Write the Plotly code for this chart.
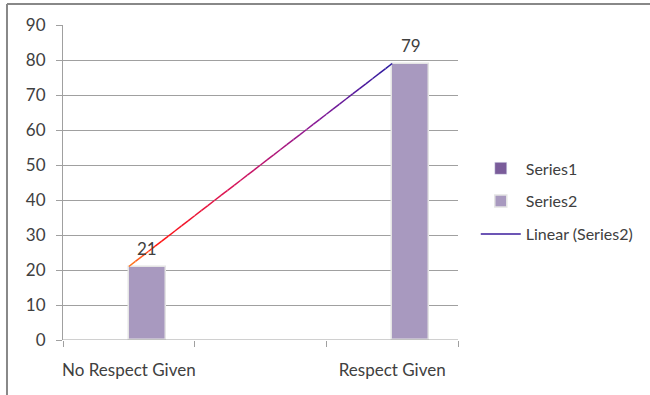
import numpy as np
import plotly.graph_objects as go

categories = ["No Respect Given", "", "Respect Given"]
series1 = [None, None, None]
series2 = [21, None, 79]
y_ticks = [0, 10, 20, 30, 40, 50, 60, 70, 80, 90]

xpos = np.arange(len(categories))
fig = go.Figure()
FONT = "Lato, Open Sans, sans-serif"

fig.add_trace(go.Bar(x=xpos, y=series1, name="Series1", marker_color="#7a5c9a",
                     width=0.28, offset=-0.28, legendgroup="a"))
fig.add_trace(go.Bar(x=xpos, y=series2, name="Series2", marker_color="#a899bf",
                     marker_line=dict(color="#e4e4e4", width=1.5),
                     width=0.28, offset=0, legendgroup="b"))

annotations = []
for i, v in enumerate(series2):
    if v is not None:
        annotations.append(dict(x=i + 0.14, y=v, xref="x", yref="y", text=str(v),
                                showarrow=False, yanchor="middle", yshift=18,
                                font=dict(family=FONT, size=17, color="#404040")))

# linear trend line on Series2
pts = [(i, v) for i, v in enumerate(series2) if v is not None]
px_ = np.array([p[0] for p in pts], dtype=float)
py_ = np.array([p[1] for p in pts], dtype=float)
m, b = np.polyfit(px_, py_, 1)
x0, x1 = px_.min(), px_.max()
stops = [(0.0, (255, 128, 32)), (0.12, (255, 20, 20)), (0.4, (215, 20, 90)),
         (0.7, (140, 25, 150)), (1.0, (40, 25, 160))]

def col(t):
    for (t0, c0), (t1, c1) in zip(stops[:-1], stops[1:]):
        if t0 <= t <= t1:
            f = (t - t0) / (t1 - t0)
            return "rgb(%d,%d,%d)" % tuple(int(c0[k] + f * (c1[k] - c0[k])) for k in range(3))
    return "rgb(%d,%d,%d)" % stops[-1][1]

nseg = 40
xs = np.linspace(x0, x1, nseg + 1)
for i in range(nseg):
    xa, xb = xs[i], xs[i + 1]
    fig.add_trace(go.Scatter(x=[xa, xb], y=[m * xa + b, m * xb + b], mode="lines",
                             line=dict(color=col((i + 0.5) / nseg), width=1.5),
                             showlegend=False, hoverinfo="skip"))
fig.add_trace(go.Scatter(x=[None], y=[None], mode="lines", name="Linear (Series2)",
                         line=dict(color="#3b1c9c", width=1.5), legendgroup="c"))

grid = "#a0a0a0"
fig.update_layout(
    width=650, height=395,
    margin=dict(l=63, r=192, t=25, b=55),
    paper_bgcolor="white", plot_bgcolor="white",
    font=dict(family=FONT, size=17, color="#404040"),
    barmode="overlay", bargap=0,
    annotations=annotations,
    xaxis=dict(range=[-0.5, 2.5], tickvals=list(xpos), ticktext=categories,
               showgrid=False, zeroline=False, showline=False, ticks="",
               ticklabelstandoff=18, tickfont=dict(size=17)),
    xaxis2=dict(range=[-0.5, 2.5], overlaying="x", side="bottom",
                tickvals=[-0.5, 0.5, 1.5, 2.5], ticktext=["", "", "", ""],
                ticks="outside", ticklen=6, tickcolor=grid, showgrid=False,
                zeroline=False, showline=False, anchor="y"),
    yaxis=dict(range=[0, 90], tickvals=y_ticks, showgrid=True, gridcolor=grid, gridwidth=1,
               zeroline=False, showline=True, linecolor=grid, linewidth=1,
               ticks="outside", ticklen=6, tickcolor=grid, ticklabelstandoff=7,
               tickfont=dict(size=17)),
    legend=dict(x=1.045, y=0.44, xanchor="left", yanchor="middle",
                font=dict(size=16, color="#404040"), tracegroupgap=9,
                itemwidth=40, bgcolor="rgba(0,0,0,0)"),
    shapes=[
        dict(type="line", xref="paper", yref="paper", x0=-0.1418, x1=1.5, y0=1.0667, y1=1.0667,
             line=dict(color="#888888", width=2)),
        dict(type="line", xref="paper", yref="paper", x0=-0.1418, x1=-0.1418, y0=1.0667, y1=-0.2,
             line=dict(color="#888888", width=2)),
        dict(type="line", xref="paper", yref="y", x0=0, x1=1, y0=0, y1=0,
             line=dict(color=grid, width=1)),
    ],
)
fig.add_trace(go.Scatter(x=[0], y=[None], xaxis="x2", showlegend=False, hoverinfo="skip"))
fig.write_html("out.html")
